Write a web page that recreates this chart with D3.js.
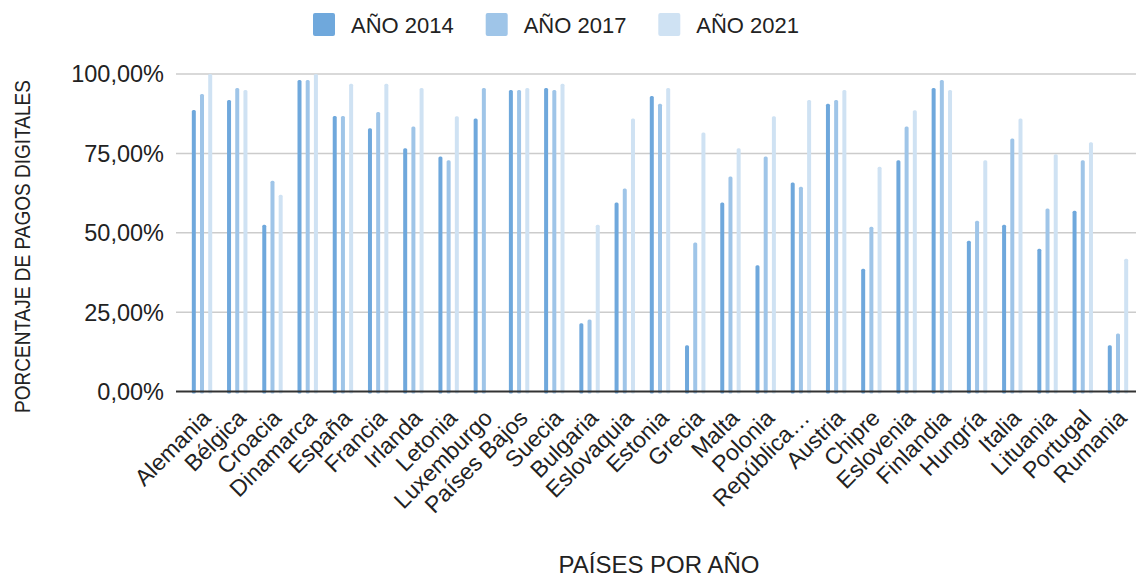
<!DOCTYPE html>
<html><head><meta charset="utf-8">
<script src="https://cdn.jsdelivr.net/npm/d3@7"></script>
<style>
html,body{margin:0;padding:0;background:#fff;}
svg text{font-family:"Liberation Sans",Arial,sans-serif;fill:#222;}
</style></head>
<body><svg id="c" width="1136" height="578"></svg>
<script>
const countries = ["Alemania","Bélgica","Croacia","Dinamarca","España","Francia","Irlanda","Letonia","Luxemburgo","Países Bajos","Suecia","Bulgaria","Eslovaquia","Estonia","Grecia","Malta","Polonia","República…","Austria","Chipre","Eslovenia","Finlandia","Hungría","Italia","Lituania","Portugal","Rumania"];
const seriesNames = ["AÑO 2014","AÑO 2017","AÑO 2021"];
const values2014 = [88.7,91.8,52.5,98.1,86.8,82.9,76.6,74.0,86.0,95.0,95.6,21.5,59.5,93.1,14.6,59.5,39.8,65.8,90.6,38.7,72.8,95.6,47.5,52.5,45.0,56.9,14.6];
const values2017 = [93.7,95.6,66.4,98.1,86.8,88.0,83.5,72.8,95.6,95.0,95.0,22.7,63.9,90.6,46.9,67.7,74.0,64.5,91.8,51.9,83.5,98.1,53.8,79.7,57.6,72.8,18.3];
const values2021 = [100,95.0,62.0,100,96.9,96.9,95.6,86.7,null,95.6,96.9,52.5,86.0,95.6,81.6,76.6,86.7,91.8,95.0,70.8,88.6,95.0,72.8,86.0,74.7,78.5,41.8];
const yTicks = [0,25,50,75,100];
const colors = ["#6fa8dc","#9fc5e8","#cfe2f3"];

const svg = d3.select("#c");
const seriesVals = [values2014, values2017, values2021];

const x0 = d3.scaleBand().domain(countries).range([184.4, 1135.6]).padding(0);
const x1 = d3.scalePoint().domain(seriesNames).range([-8.2, 8.2]);
const y = d3.scaleLinear().domain([0,100]).range([391.5, 74]);

// gridlines
svg.append("g").selectAll("line").data(yTicks.filter(t=>t>0)).join("line")
  .attr("x1",176).attr("x2",1136)
  .attr("y1",d=>y(d)).attr("y2",d=>y(d))
  .attr("stroke","#cccccc").attr("stroke-width",1.5);

// y tick labels
svg.append("g").selectAll("text").data(yTicks).join("text")
  .attr("x",164).attr("y",d=>y(d)).attr("dy","0.36em")
  .attr("text-anchor","end").attr("font-size",23.5)
  .text(d=>d3.format(".2f")(d).replace(".",",")+"%");

// bars
const bw = 4;
seriesNames.forEach((s,si)=>{
  const data = countries.map((c,i)=>({c, v: seriesVals[si][i]})).filter(d=>d.v!=null);
  svg.append("g").selectAll("rect").data(data).join("rect")
    .attr("x",d=>x0(d.c)+x0.bandwidth()/2 + x1(s) - bw/2)
    .attr("y",d=>y(d.v))
    .attr("width",bw)
    .attr("height",d=>y(0)-y(d.v)+2)
    .attr("rx",1.5)
    .attr("fill",colors[si]);
});

// baseline
svg.append("line").attr("x1",176).attr("x2",1136).attr("y1",y(0)).attr("y2",y(0))
  .attr("stroke","#333").attr("stroke-width",2);

// x labels
svg.append("g").selectAll("text").data(countries).join("text")
  .attr("transform",d=>`translate(${x0(d)+x0.bandwidth()/2+10},${y(0)+28}) rotate(-45)`)
  .attr("text-anchor","end").attr("font-size",23)
  .text(d=>d);

// axis titles
svg.append("text").attr("transform","translate(29.5,246.5) rotate(-90)")
  .attr("text-anchor","middle").attr("font-size",22.5)
  .attr("textLength",333).attr("lengthAdjust","spacingAndGlyphs")
  .text("PORCENTAJE DE PAGOS DIGITALES");
svg.append("text").attr("x",659).attr("y",573)
  .attr("text-anchor","middle").attr("font-size",24)
  .text("PAÍSES POR AÑO");

// legend
const legX = [313, 485.7, 658.3];
const lg = svg.append("g").selectAll("g").data(seriesNames).join("g")
  .attr("transform",(d,i)=>`translate(${legX[i]},13)`);
lg.append("rect").attr("width",22).attr("height",23).attr("rx",2)
  .attr("fill",(d,i)=>colors[i]);
lg.append("text").attr("x",38).attr("y",20).attr("font-size",22).text(d=>d);
</script></body></html>
